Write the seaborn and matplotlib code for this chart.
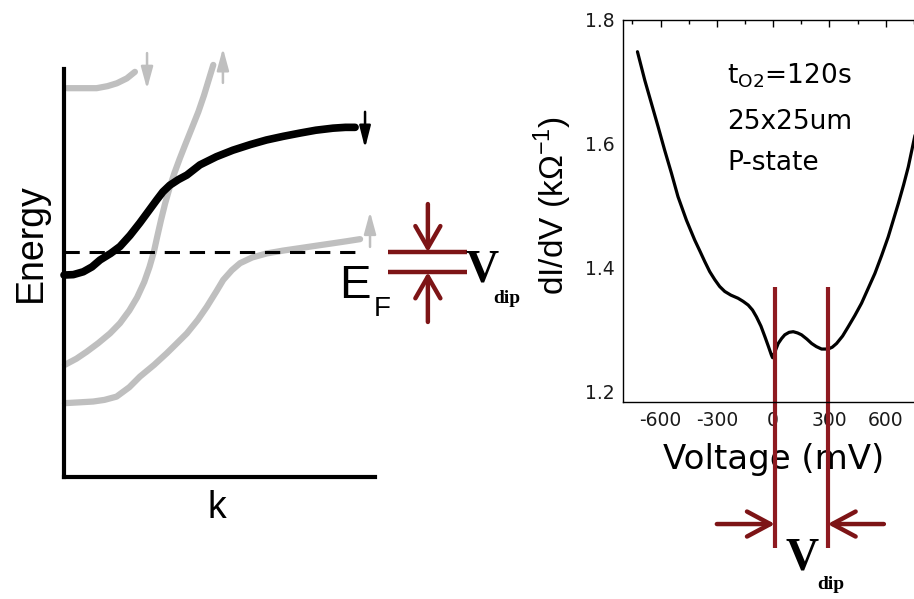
import matplotlib
matplotlib.use("Agg")
import matplotlib.pyplot as plt
import seaborn as sns
from matplotlib.ticker import MultipleLocator

# ---------------- band sketch (k and energy in arbitrary units 0..1) -------------
band_top_k = [0.009, 0.060, 0.105, 0.140, 0.170, 0.202, 0.228]
band_top_e = [0.953, 0.953, 0.953, 0.958, 0.965, 0.977, 0.993]

band_steep_k = [0.003, 0.040, 0.073, 0.110, 0.148, 0.180, 0.210, 0.235, 0.258,
                0.275, 0.289, 0.300, 0.312, 0.325, 0.340, 0.355, 0.372, 0.390,
                0.410, 0.432, 0.450, 0.466, 0.480]
band_steep_e = [0.275, 0.290, 0.307, 0.328, 0.352, 0.377, 0.408, 0.440, 0.478,
                0.515, 0.552, 0.590, 0.630, 0.670, 0.710, 0.745, 0.780, 0.815,
                0.853, 0.895, 0.935, 0.975, 1.010]

band_low_k = [0.003, 0.050, 0.094, 0.130, 0.169, 0.210, 0.244, 0.290, 0.330,
              0.362, 0.395, 0.430, 0.459, 0.490, 0.512, 0.540, 0.566, 0.605,
              0.652, 0.705, 0.759, 0.812, 0.866, 0.910, 0.952]
band_low_e = [0.181, 0.183, 0.185, 0.189, 0.197, 0.220, 0.246, 0.275, 0.303,
              0.327, 0.352, 0.385, 0.417, 0.455, 0.483, 0.507, 0.524, 0.538,
              0.548, 0.555, 0.561, 0.567, 0.573, 0.578, 0.583]

band_black_k = [0.0, 0.030, 0.062, 0.090, 0.116, 0.150, 0.180, 0.212, 0.244,
                0.272, 0.298, 0.318, 0.340, 0.368, 0.395, 0.437, 0.490, 0.543,
                0.600, 0.651, 0.705, 0.759, 0.810, 0.865, 0.905, 0.936]
band_black_e = [0.495, 0.496, 0.503, 0.515, 0.532, 0.548, 0.565, 0.592, 0.623,
                0.652, 0.679, 0.699, 0.715, 0.729, 0.740, 0.765, 0.785, 0.801,
                0.815, 0.826, 0.835, 0.843, 0.850, 0.855, 0.857, 0.857]

fermi_level = 0.551
fermi_end_k = 0.936
dip_low_level = 0.502

# ---------------- tunnelling spectrum ---------------------------------------------
voltage_mv = [-723, -684, -649, -613, -578, -542, -507, -462, -418, -390, -364,
              -338, -311, -285, -258, -225, -187, -160, -133, -110, -89, -65,
              -44, -25, -9, -3, 10, 27, 45, 62, 85, 107, 130, 151, 180, 205,
              230, 258, 293, 315, 338, 370, 400, 435, 471, 505, 542, 578, 613,
              640, 667, 695, 720, 750, 775]
didv = [1.748, 1.702, 1.665, 1.627, 1.589, 1.552, 1.514, 1.476, 1.444, 1.426,
        1.409, 1.393, 1.380, 1.369, 1.361, 1.355, 1.350, 1.345, 1.339, 1.331,
        1.320, 1.305, 1.288, 1.272, 1.258, 1.254, 1.264, 1.277, 1.285, 1.291,
        1.295, 1.296, 1.294, 1.291, 1.284, 1.277, 1.272, 1.268, 1.268, 1.271,
        1.277, 1.289, 1.304, 1.322, 1.342, 1.365, 1.390, 1.419, 1.449, 1.476,
        1.503, 1.533, 1.562, 1.605, 1.640]
dip_voltages = [10, 290]
x_ticks = [-600, -300, 0, 300, 600]
y_ticks = [1.2, 1.4, 1.6, 1.8]

W, H = 914, 599
RED_L = "#7d1416"
RED_R = "#8e1a20"
GRAY = "#bfbfbf"
SPEC_FONT = ["DejaVu Sans"]

sns.set_theme(style="white")
plt.rcParams["font.family"] = ["Liberation Sans", "DejaVu Sans"]
plt.rcParams["mathtext.fontset"] = "custom"
plt.rcParams["mathtext.rm"] = "DejaVu Sans"
plt.rcParams["mathtext.it"] = "DejaVu Sans:italic"

fig = plt.figure(figsize=(W / 100, H / 100), dpi=100)
fig.patch.set_facecolor("white")


def fx(px):
    return px / W


def fy(py):
    return 1 - py / H


# ================= left: schematic band structure =================
axL = fig.add_axes([fx(64), fy(477), 311 / W, 408 / H])
axL.set_xlim(0, 1)
axL.set_ylim(0, 1)
axL.set_xticks([])
axL.set_yticks([])
for side in ("top", "right"):
    axL.spines[side].set_visible(False)
for side in ("left", "bottom"):
    axL.spines[side].set_linewidth(3.0)
    axL.spines[side].set_color("black")
    axL.spines[side].set_capstyle("projecting")
axL.patch.set_alpha(0)

for ks, es in ((band_top_k, band_top_e), (band_steep_k, band_steep_e),
               (band_low_k, band_low_e)):
    sns.lineplot(x=ks, y=es, ax=axL, color=GRAY, linewidth=4.5, sort=False,
                 estimator=None, solid_capstyle="round", solid_joinstyle="round",
                 clip_on=False)
sns.lineplot(x=band_black_k, y=band_black_e, ax=axL, color="black", linewidth=5.5,
             sort=False, estimator=None, solid_capstyle="round",
             solid_joinstyle="round", clip_on=False)

axL.plot([0, fermi_end_k], [fermi_level, fermi_level], color="black", lw=2.2,
         dashes=(5, 3.2), clip_on=False)


def spin_arrow(k, e0, e1, color, lw, hw=0.3):
    axL.annotate("", xy=(k, e1), xytext=(k, e0), annotation_clip=False,
                 arrowprops=dict(arrowstyle=f"-|>,head_length=1.1,head_width={hw}",
                                 color=color, lw=lw, shrinkA=0, shrinkB=0))


spin_arrow(0.267, 1.039, 0.951, GRAY, 1.8)
spin_arrow(0.511, 0.966, 1.051, GRAY, 1.8)
spin_arrow(0.984, 0.564, 0.650, GRAY, 1.8)
spin_arrow(0.968, 0.895, 0.806, "black", 1.8, 0.28)

# V_dip marker beside E_F
k0, k1, kc = 1.042, 1.296, 1.170
for lev in (fermi_level, dip_low_level):
    axL.plot([k0, k1], [lev, lev], color=RED_L, lw=3.2, clip_on=False,
             solid_capstyle="butt")
red_head = "->,head_length=1.3,head_width=0.75"
axL.annotate("", xy=(kc, fermi_level), xytext=(kc, 0.669), annotation_clip=False,
             arrowprops=dict(arrowstyle=red_head, color=RED_L, lw=3.2,
                             shrinkA=0, shrinkB=0))
axL.annotate("", xy=(kc, dip_low_level), xytext=(kc, 0.380), annotation_clip=False,
             arrowprops=dict(arrowstyle=red_head, color=RED_L, lw=3.2,
                             shrinkA=0, shrinkB=0))

fig.text(fx(31), fy(243), "Energy", rotation=90, ha="center", va="center",
         fontsize=27, color="black")
fig.text(fx(217), fy(508), "k", ha="center", va="center", fontsize=27, color="black")
fig.text(fx(339), fy(298), "E", ha="left", va="baseline", fontsize=34, color="black")
fig.text(fx(374), fy(316), "F", ha="left", va="baseline", fontsize=20, color="black")
fig.text(fx(465), fy(282), "V", ha="left", va="baseline", fontsize=33,
         family="Liberation Serif", weight="bold", color="black")
fig.text(fx(493), fy(303), "dip", ha="left", va="baseline", fontsize=14,
         family="Liberation Serif", weight="bold", color="black")

# ================= right: dI/dV spectrum =================
axR = fig.add_axes([fx(623), fy(401.7), 300.3 / W, 382.2 / H])
sns.lineplot(x=voltage_mv, y=didv, ax=axR, color="black", linewidth=2.3,
             sort=False, estimator=None, solid_joinstyle="round")
axR.set_xlim(-800, 800)
axR.set_ylim(1.183, 1.8)
axR.set_xticks(x_ticks)
axR.set_xticklabels([str(v) for v in x_ticks], family=SPEC_FONT)
axR.set_yticks(y_ticks)
axR.set_yticklabels([f"{v:.1f}" for v in y_ticks], family=SPEC_FONT)
axR.xaxis.set_minor_locator(MultipleLocator(150))
axR.yaxis.set_minor_locator(MultipleLocator(0.1))
axR.tick_params(which="both", direction="in", top=True, right=True,
                color="black", width=1.0)
axR.tick_params(which="major", length=5, labelsize=13.5, labelcolor="#1a1a1a")
axR.tick_params(axis="x", which="major", pad=7)
axR.tick_params(axis="y", which="major", pad=6)
axR.tick_params(which="minor", length=3)
for s in axR.spines.values():
    s.set_color("black")
    s.set_linewidth(1.0)

axR.set_xlabel("Voltage (mV)", fontsize=24.5, color="black", family=SPEC_FONT)
axR.xaxis.set_label_coords(0.5, -0.108)
axR.set_ylabel("dI/dV (kΩ$^{\\mathregular{-1}}$)", fontsize=24, color="black",
               family=["Liberation Sans", "DejaVu Sans"])
axR.yaxis.set_label_coords(-0.163, 0.513)

# dip markers
for v in dip_voltages:
    axR.plot([v, v], [1.368, 0.947], color=RED_R, lw=3.0, clip_on=False,
             solid_capstyle="butt")
arr_y = 0.9855
red_head_r = "->,head_length=1.4,head_width=0.75"
axR.annotate("", xy=(dip_voltages[0], arr_y), xytext=(-300, arr_y),
             annotation_clip=False,
             arrowprops=dict(arrowstyle=red_head_r, color=RED_L, lw=3.2,
                             shrinkA=0, shrinkB=0))
axR.annotate("", xy=(dip_voltages[1], arr_y), xytext=(590, arr_y),
             annotation_clip=False,
             arrowprops=dict(arrowstyle=red_head_r, color=RED_L, lw=3.2,
                             shrinkA=0, shrinkB=0))

fig.text(fx(786), fy(570), "V", ha="left", va="baseline", fontsize=33,
         family="Liberation Serif", weight="bold", color="black")
fig.text(fx(817), fy(589), "dip", ha="left", va="baseline", fontsize=14,
         family="Liberation Serif", weight="bold", color="black")

fig.text(fx(727), fy(83), "t$_{\\mathregular{O2}}$=120s", ha="left",
         va="baseline", fontsize=19, color="black", family=SPEC_FONT)
fig.text(fx(727), fy(129), "25x25um", ha="left", va="baseline", fontsize=19,
         color="black", family=SPEC_FONT)
fig.text(fx(727), fy(170), "P-state", ha="left", va="baseline", fontsize=19,
         color="black", family=SPEC_FONT)

fig.savefig("out.png", dpi=100, facecolor="white")
